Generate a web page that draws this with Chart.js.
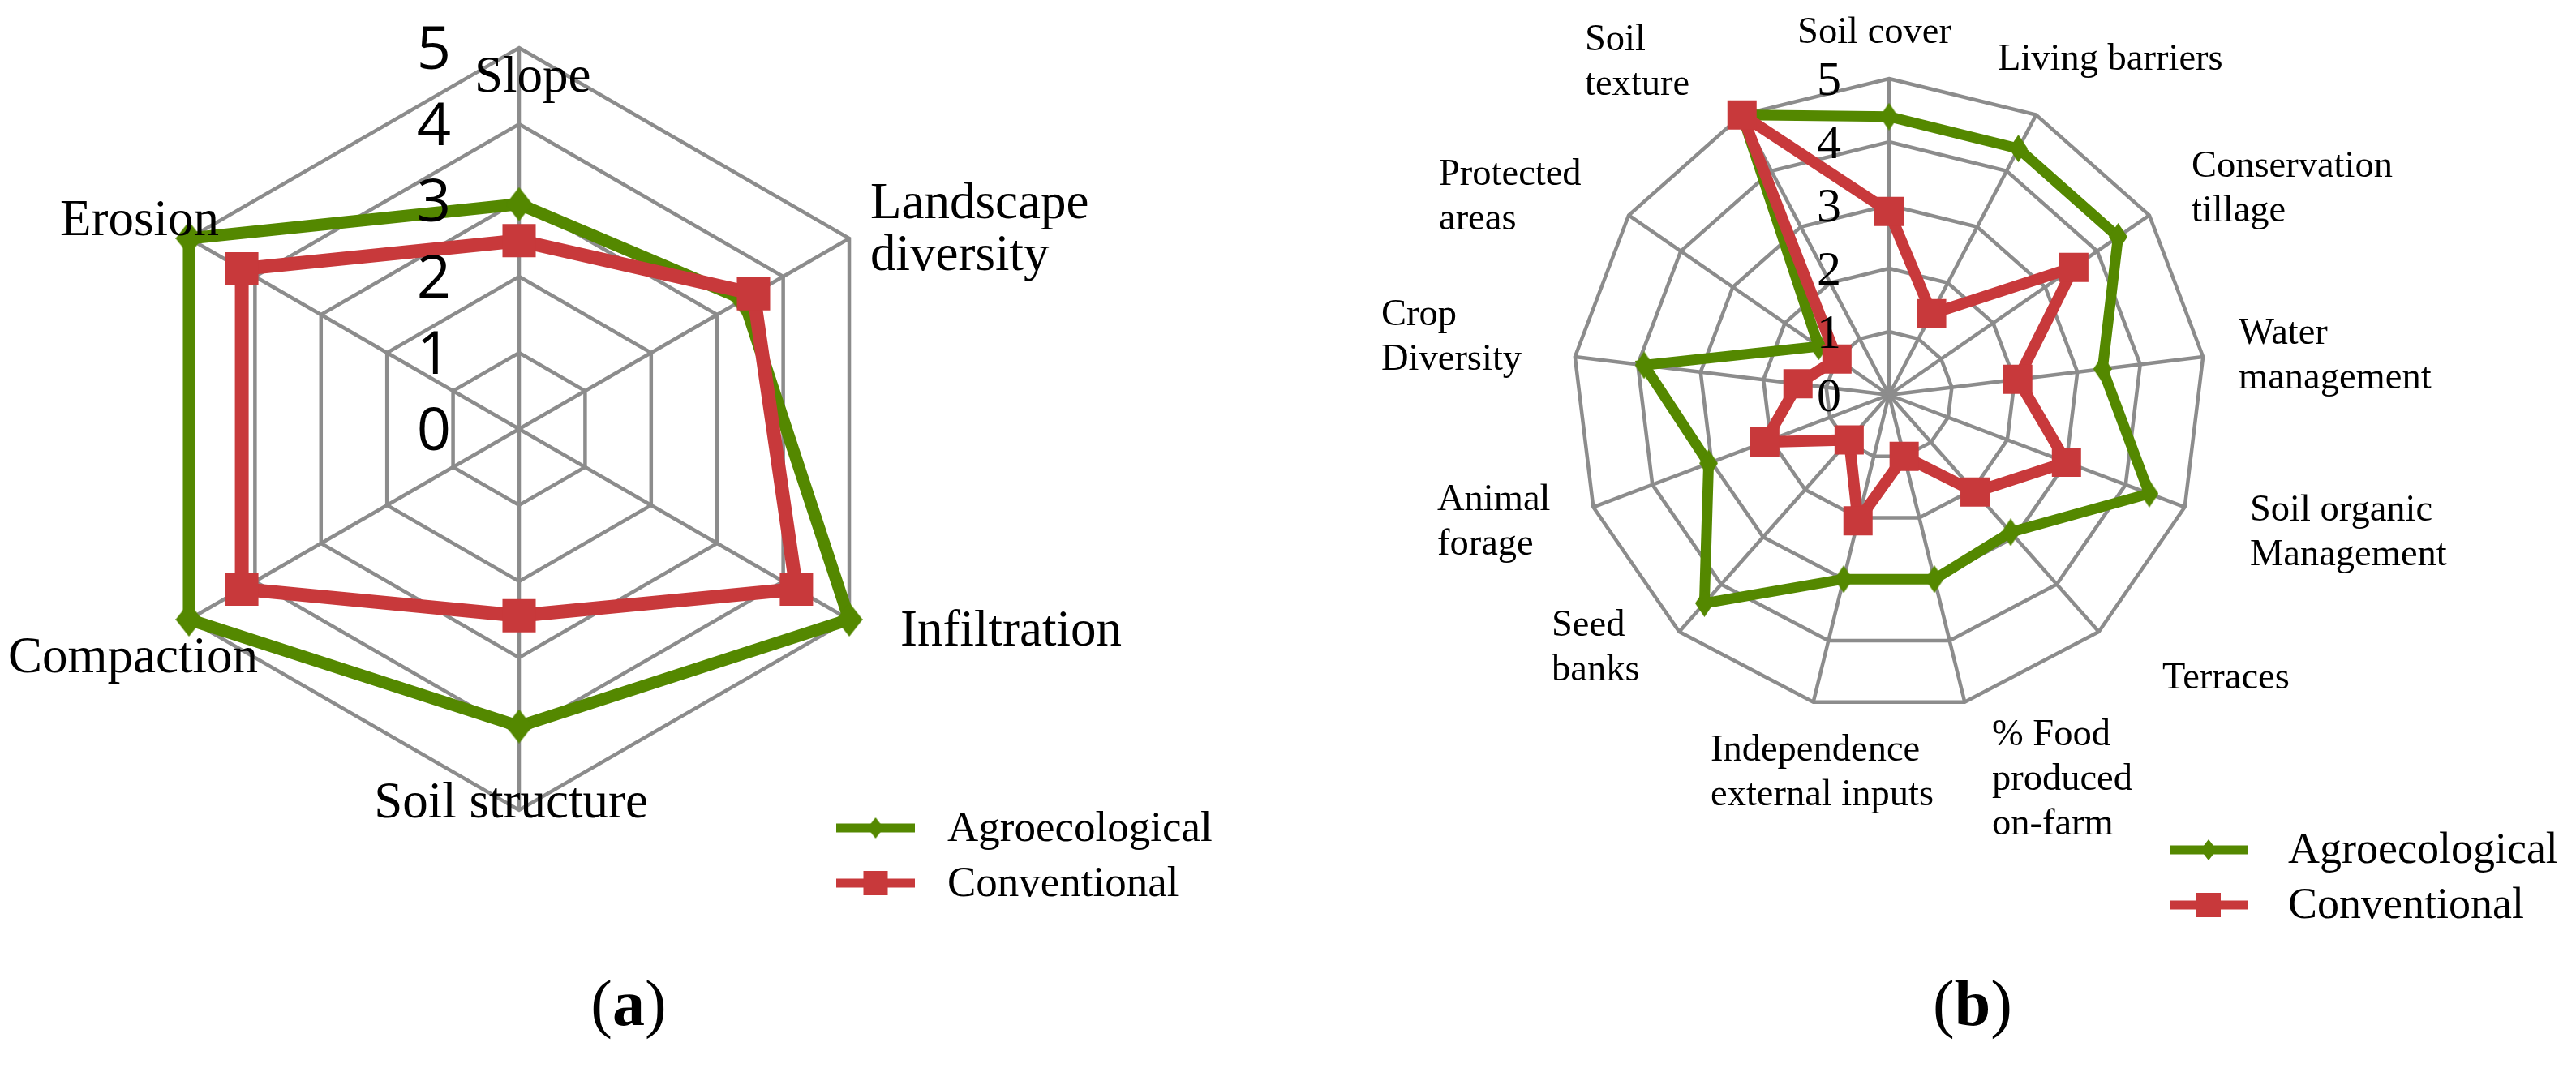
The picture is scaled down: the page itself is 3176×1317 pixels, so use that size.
<!DOCTYPE html>
<html><head><meta charset="utf-8">
<script src="https://cdn.jsdelivr.net/npm/chart.js@4"></script>
<style>
html,body{margin:0;padding:0;background:#fff;width:3176px;height:1317px;overflow:hidden}
canvas{position:absolute;top:0}
#ca{left:0}
#cb{left:1588px}
</style></head><body>
<canvas id="ca" width="1588" height="1317"></canvas>
<canvas id="cb" width="1588" height="1317"></canvas>
<script>
// ---- data ----
const seriesNames = ['Agroecological', 'Conventional'];
const categoriesA = ['Slope', ['Landscape', 'diversity'], 'Infiltration', 'Soil structure', 'Compaction', 'Erosion'];
const agroA = [2.95, 3.4, 5, 3.9, 5, 5];
const convA = [2.47, 3.55, 4.2, 2.45, 4.2, 4.2];
const categoriesB = ['Soil cover', 'Living barriers', ['Conservation', 'tillage'], ['Water', 'management'],
  ['Soil organic', 'Management'], 'Terraces', ['% Food', 'produced', 'on-farm'], ['Independence', 'external inputs'],
  ['Seed', 'banks'], ['Animal', 'forage'], ['Crop', 'Diversity'], ['Protected', 'areas'], ['Soil', 'texture']];
const agroB = [4.4, 4.4, 4.4, 3.4, 4.4, 2.9, 3.0, 3.0, 4.4, 3.05, 3.9, 1.35, 5];
const convB = [2.9, 1.45, 3.55, 2.05, 3.0, 2.05, 1.0, 2.05, 0.95, 2.1, 1.45, 1.0, 5];
const tickMin = 0, tickMax = 5, tickStep = 1;
const captions = ['a', 'b'];

// ---- style ----
const GREEN = '#548800', RED = '#C8393B', GRID = '#8c8c8c';

function diamond(w, h, color) {
  const c = document.createElement('canvas'); c.width = w; c.height = h;
  const x = c.getContext('2d'); x.fillStyle = color; x.beginPath();
  x.moveTo(w / 2, 0); x.lineTo(w, h / 2); x.lineTo(w / 2, h); x.lineTo(0, h / 2); x.closePath(); x.fill();
  return c;
}

const styleA = {
  pad: {left: 170, top: 59, right: 478, bottom: 318},
  gridW: 4.5, agroW: 15, convW: 17, dia: [33, 42], sq: 41,
  tickFont: '74px "Open Sans"', tickDx: -105, tickShift: 26,
  labelFont: '63px "Liberation Serif"', lineH: 64,
  labels: [[-55, -416, 'left'], [433, -260, 'left'], [470, 267, 'left'], [-10, 479, 'center'], [-630, 300, 'left'], [-566, -239, 'left']],
  legend: {x1: 1031, x2: 1128, y: 1021, dy: 68, textX: 1168, font: '53px "Liberation Serif"', lineW: 11, dia: [20, 26], sq: 30},
  caption: {x: 775, y: 1264, size: 80}
};
const styleB = {
  pad: {left: 351, top: 97, right: 457, bottom: 440},
  gridW: 4.5, agroW: 13, convW: 14, dia: [23, 34], sq: 36,
  tickFont: '60px "Liberation Serif"', tickDx: -74, tickShift: 20,
  labelFont: '46.5px "Liberation Serif"', lineH: 55,
  labels: [[-18, -434, 'center'], [134, -401, 'left'], [373, -269, 'left'], [431, -63, 'left'], [445, 155, 'left'],
    [337, 362, 'left'], [127, 432, 'left'], [-220, 451, 'left'], [-416, 297, 'left'], [-557, 142, 'left'],
    [-626, -86, 'left'], [-555, -259, 'left'], [-375, -425, 'left']],
  legend: {x1: 1087, x2: 1183, y: 1048, dy: 68, textX: 1233, font: '54px "Liberation Serif"', lineW: 11, dia: [20, 26], sq: 30},
  caption: {x: 844, y: 1264, size: 80}
};

const decor = {
  id: 'decor',
  afterDraw(chart) {
    const st = chart.options.plugins.decor.st;
    const cap = chart.options.plugins.decor.cap;
    const s = chart.scales.r, ctx = chart.ctx;
    ctx.save();
    ctx.fillStyle = '#000';
    // tick labels
    ctx.font = st.tickFont; ctx.textAlign = 'center'; ctx.textBaseline = 'alphabetic';
    s.ticks.forEach(t => {
      const d = s.getDistanceFromCenterForValue(t.value);
      ctx.fillText(String(t.value), s.xCenter + st.tickDx, s.yCenter - d + st.tickShift);
    });
    // category labels
    ctx.font = st.labelFont;
    chart.data.labels.forEach((lab, i) => {
      const p = st.labels[i];
      const lines = Array.isArray(lab) ? lab : [lab];
      ctx.textAlign = p[2];
      lines.forEach((ln, j) => ctx.fillText(ln, s.xCenter + p[0], s.yCenter + p[1] + j * st.lineH));
    });
    // legend
    const L = st.legend;
    chart.data.datasets.forEach((ds, i) => {
      const y = L.y + i * L.dy;
      ctx.strokeStyle = ds.borderColor; ctx.lineWidth = L.lineW; ctx.lineCap = 'butt';
      ctx.beginPath(); ctx.moveTo(L.x1, y); ctx.lineTo(L.x2, y); ctx.stroke();
      const cx = (L.x1 + L.x2) / 2;
      ctx.fillStyle = ds.borderColor;
      if (ds.pointStyle === 'rect') {
        ctx.fillRect(cx - L.sq / 2, y - L.sq / 2, L.sq, L.sq);
      } else {
        ctx.drawImage(diamond(L.dia[0], L.dia[1], ds.borderColor), cx - L.dia[0] / 2, y - L.dia[1] / 2);
      }
      ctx.fillStyle = '#000'; ctx.font = L.font; ctx.textAlign = 'left'; ctx.textBaseline = 'middle';
      ctx.fillText(ds.label, L.textX, y + 2);
    });
    // caption
    const C = st.caption;
    ctx.textBaseline = 'alphabetic'; ctx.textAlign = 'left';
    const fN = C.size + 'px "Liberation Serif"', fB = 'bold ' + C.size + 'px "Liberation Serif"';
    ctx.font = fN; const wp = ctx.measureText('(').width, wq = ctx.measureText(')').width;
    ctx.font = fB; const wa = ctx.measureText(cap).width;
    let x = C.x - (wp + wa + wq) / 2;
    ctx.font = fN; ctx.fillText('(', x, C.y); x += wp;
    ctx.font = fB; ctx.fillText(cap, x, C.y); x += wa;
    ctx.font = fN; ctx.fillText(')', x, C.y);
    ctx.restore();
  }
};

function makeChart(id, cats, agro, conv, st, cap) {
  return new Chart(document.getElementById(id), {
    type: 'radar',
    data: {
      labels: cats,
      datasets: [
        {label: seriesNames[0], data: agro, borderColor: GREEN, backgroundColor: 'rgba(0,0,0,0)', fill: false,
          borderWidth: st.agroW, pointStyle: diamond(st.dia[0], st.dia[1], GREEN), pointRadius: st.dia[1] / 2,
          pointBackgroundColor: GREEN, pointBorderWidth: 0, order: 2, clip: false, tension: 0},
        {label: seriesNames[1], data: conv, borderColor: RED, backgroundColor: 'rgba(0,0,0,0)', fill: false,
          borderWidth: st.convW, pointStyle: 'rect', pointRadius: st.sq / Math.SQRT2,
          pointBackgroundColor: RED, pointBorderWidth: 0, order: 1, clip: false, tension: 0}
      ]
    },
    options: {
      responsive: false, animation: false, events: [],
      layout: {padding: st.pad},
      plugins: {legend: {display: false}, tooltip: {enabled: false}, decor: {st: st, cap: cap}},
      scales: {
        r: {
          min: tickMin, max: tickMax,
          ticks: {stepSize: tickStep, display: false},
          pointLabels: {display: false},
          grid: {color: GRID, lineWidth: st.gridW},
          angleLines: {color: GRID, lineWidth: st.gridW}
        }
      }
    },
    plugins: [decor]
  });
}

makeChart('ca', categoriesA, agroA, convA, styleA, captions[0]);
makeChart('cb', categoriesB, agroB, convB, styleB, captions[1]);
</script>
</body></html>
